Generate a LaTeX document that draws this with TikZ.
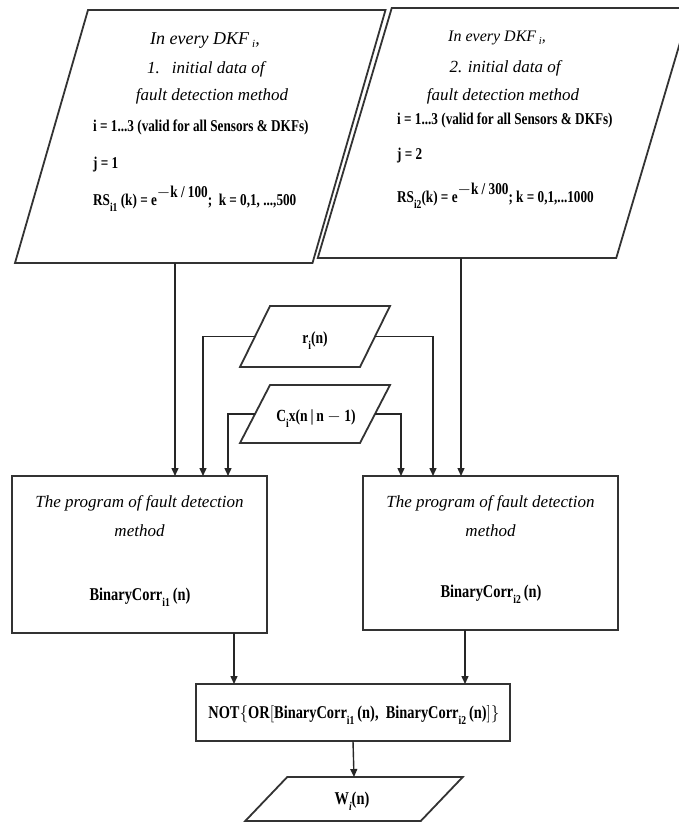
\documentclass[tikz,border=0pt]{standalone}
\usepackage{fontspec}
\setmainfont{Liberation Serif}
\newfontfamily\condfont[FakeStretch=0.8]{Liberation Serif}
\usetikzlibrary{calc,arrows.meta}

% lowered subscript and raised exponent used in the formulas
\newcommand\lowsub[1]{\raisebox{-6pt}{\fontsize{12}{12}\selectfont #1}}
\newcommand\highsup[1]{\raisebox{8pt}{#1}}

% parallelogram drawn around a rectangular body node: #1 node, #2 half of the slant
\newcommand\slantshape[2]{%
  \draw[shapeline] ($(#1.north west)+(#2,0)$) -- ($(#1.north east)+(#2,0)$)
    -- ($(#1.south east)-(#2,0)$) -- ($(#1.south west)-(#2,0)$) -- cycle;}

\begin{document}
\begin{tikzpicture}[x=1pt,y=-1pt,
  shapeline/.style={draw=black!80, line width=1.8pt, line join=miter},
  body/.style={inner sep=0pt, outer sep=0pt},
  boxnode/.style={body, shapeline, fill=white},
  flow/.style={draw=black!85, line width=1.4pt, -{Triangle[length=8pt,width=7pt]}},
  ttl/.style={inner sep=0pt, anchor=base, font=\fontsize{17}{20}\selectfont\itshape},
  frm/.style={inner sep=0pt, anchor=base west, font=\fontsize{16.5}{18}\selectfont\condfont\bfseries},
  bigfrm/.style={inner sep=0pt, anchor=base, font=\fontsize{18}{20}\selectfont\condfont\bfseries}]

\useasboundingbox (0,0) rectangle (678,822);
\fill[white] (0,0) rectangle (678,822);

% ---- input data of the two fault detection methods
\node[body, minimum width=297.5pt, minimum height=253pt] (P1) at (200.25,136.5) {};
\slantshape{P1}{36.5}
\node[body, minimum width=298.5pt, minimum height=250pt] (P2) at (504,133) {};
\slantshape{P2}{37}

\node[ttl, font=\fontsize{18}{20}\selectfont\itshape] (t1a) at (205,44) {In every DKF\,\raisebox{-3pt}{\fontsize{11}{11}\selectfont\itshape i},};
\node[ttl, anchor=base west] (t1b) at (147,73) {1.\hspace{12pt}initial data of};
\node[ttl] (t1c) at (212,100) {fault detection method};
\node[frm] (t1d) at (93,131) {i = 1...3 (valid for all Sensors \& DKFs)};
\node[frm] (t1e) at (93,168) {j = 1};
\node[frm] (t1f) at (93,205) {RS\lowsub{i1} (k) = e\highsup{$-$k / 100}; \ k = 0,1, ...,500};

\node[ttl, font=\fontsize{16}{18}\selectfont\itshape] (t2a) at (497,41) {In every DKF\,\raisebox{-3pt}{\fontsize{10.5}{10.5}\selectfont\itshape i},};
\node[ttl] (t2b) at (505,72) {2. initial data of};
\node[ttl] (t2c) at (503,100) {fault detection method};
\node[frm] (t2d) at (397,124) {i = 1...3 (valid for all Sensors \& DKFs)};
\node[frm] (t2e) at (397,159) {j = 2};
\node[frm] (t2f) at (397,202) {RS\lowsub{i2}(k) = e\highsup{$-$k / 300}; k = 0,1,...1000};

% ---- measured signals
\node[body, minimum width=120pt, minimum height=61pt] (r) at (315,336.5) {};
\slantshape{r}{15}
\node[bigfrm, font=\fontsize{17}{20}\selectfont\condfont\bfseries] (rt) at (315,343) {r\lowsub{i}(n)};
\node[body, minimum width=120pt, minimum height=58pt] (c) at (315,414) {};
\slantshape{c}{15}
\node[bigfrm, font=\fontsize{17}{20}\selectfont\condfont\bfseries] (ct) at (316,421) {C\lowsub{i}x(n\,|\,n $-$ 1)};

% ---- program boxes
\node[boxnode, minimum width=255pt, minimum height=157pt] (L) at (139.5,554.5) {};
\node[ttl] (la) at (139.5,507) {The program of fault detection};
\node[ttl] (lb) at (139.5,536) {method};
\node[bigfrm] (lc) at (140,600) {BinaryCorr\lowsub{i1}\,(n)};

\node[boxnode, minimum width=255pt, minimum height=154pt] (R) at (490.5,553) {};
\node[ttl] (ra) at (490.5,507) {The program of fault detection};
\node[ttl] (rb) at (490.5,536) {method};
\node[bigfrm] (rc) at (491,597) {BinaryCorr\lowsub{i2}\,(n)};

% ---- combination and output
\node[boxnode, minimum width=314pt, minimum height=57pt] (N) at (353,712.5) {};
\node[bigfrm] (nt) at (354,718) {NOT$\bigl\{$OR$\bigl[$BinaryCorr\lowsub{i1}\,(n), \ BinaryCorr\lowsub{i2}\,(n)$\bigr]\bigr\}$};

\node[body, minimum width=175.5pt, minimum height=44pt] (W) at (354,799) {};
\slantshape{W}{21}
\node[bigfrm] (wt) at (352,804) {W\lowsub{\itshape i}(n)};

% ---- connection points on the box tops
\path (L.north west) ++(163,0) coordinate (L1) ++(28,0) coordinate (L2) ++(25,0) coordinate (L3);
\path (R.north west) ++(38,0) coordinate (R1) ++(32,0) coordinate (R2) ++(28,0) coordinate (R3);
\path (N.north west) ++(38,0) coordinate (N1) ++(231,0) coordinate (N2);

% ---- connectors
\draw[flow] (P1.south -| L1) -- (L1);
\draw[flow] (r.west) -| (L2);
\draw[flow] (c.west) -| (L3);
\draw[flow] (c.east) -| (R1);
\draw[flow] (r.east) -| (R2);
\draw[flow] (P2.south -| R3) -- (R3);
\draw[flow] (L.south -| N1) -- (N1);
\draw[flow] (R.south -| N2) -- (N2);
\draw[flow] (N.south) -- (W.north);
\end{tikzpicture}
\end{document}
